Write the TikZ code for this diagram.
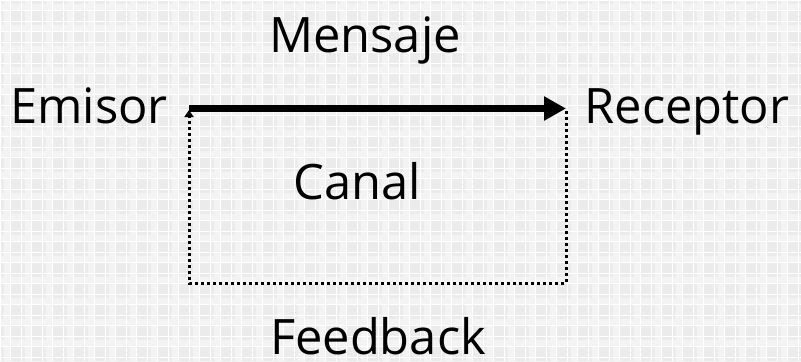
\documentclass[tikz,border=0pt]{standalone}
\usepackage{fontspec}
\setmainfont{Open Sans}
\usetikzlibrary{arrows.meta}
\definecolor{bggray}{HTML}{EBEBEB}
\tikzset{
  lbl/.style={anchor=base, inner sep=0pt, font=\fontsize{49}{55}\selectfont},
  mainarrow/.style={line width=7bp, -{Triangle[length=22bp,width=23bp]}},
  fbline/.style={line width=3bp, dash pattern=on 3bp off 3bp, -{Triangle[length=7bp,width=9bp]}},
  gridline/.style={white, line width=1bp}
}
\begin{document}
\begin{tikzpicture}[x=1bp,y=-1bp]
\useasboundingbox (0,0) rectangle (801,361);
\begin{scope}
\clip (0,0) rectangle (801,361);
\fill[bggray] (0,0) rectangle (801,361);
\foreach \i in {0,...,38} {
  \fill[white!40!bggray] ({\i*21+4},0) rectangle ({\i*21+11},361);
}
\foreach \i in {0,...,17} {
  \fill[white!40!bggray] (0,{\i*21+4}) rectangle (801,{\i*21+11});
}
\foreach \i in {0,...,76} {
  \draw[gridline] ({\i*10.5},0) -- ({\i*10.5},361);
}
\foreach \i in {0,...,34} {
  \draw[gridline] (0,{\i*10.5}) -- (801,{\i*10.5});
}
\end{scope}
\node[lbl] (emisor) at (89,123) {Emisor};
\node[lbl] (receptor) at (687,123) {Receptor};
\node[lbl] (mensaje) at (365,52) {Mensaje};
\node[lbl] (canal) at (357,199) {Canal};
\node[lbl] (feedback) at (378,354) {Feedback};
\coordinate (a) at (189,108.5);
\coordinate (b) at (566,108.5);
\coordinate (rt) at (566,111);
\coordinate (br) at (566,283);
\coordinate (bl) at (189,283);
\coordinate (lt) at (189,110);
\draw[mainarrow] (a) -- (b);
\draw[fbline] (rt) -- (br) -- (bl) -- (lt);
\end{tikzpicture}
\end{document}
